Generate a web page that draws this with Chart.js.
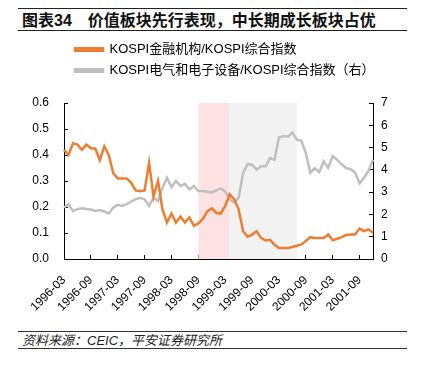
<!DOCTYPE html>
<html>
<head>
<meta charset="utf-8">
<script src="https://cdn.jsdelivr.net/npm/chart.js@4.4.1/dist/chart.umd.min.js"></script>
<style>
  body { margin: 0; background: #fff; width: 423px; height: 371px; position: relative; overflow: hidden; }
  .title {
    position: absolute; left: 18px; top: 8px; width: 389px; height: 23px;
    border-top: 1.5px solid #222; border-bottom: 1.5px solid #222;
    font: bold 16px "Liberation Sans", "Noto Sans CJK SC", sans-serif;
    line-height: 23px; padding-left: 4px; box-sizing: border-box; color: #111;
  }
  .source {
    position: absolute; left: 18px; top: 331px; width: 389px; height: 18px;
    border-top: 1px solid #333; border-bottom: 1px solid #333;
    font: italic 13px "Liberation Sans", "Noto Sans CJK SC", sans-serif;
    line-height: 17px; padding-left: 4px; box-sizing: border-box; color: #222;
  }
  #wrap { position: absolute; left: 0; top: 35px; width: 423px; height: 291px; }
</style>
</head>
<body>
<div class="title">图表34　价值板块先行表现，中长期成长板块占优</div>
<div id="wrap"><canvas id="chart"></canvas></div>
<div class="source">资料来源：CEIC，平安证券研究所</div>
<script>
// 月度数据 1996-03 ~ 2001-12
const months = [];
for (let y = 1996; y <= 2001; y++) {
  for (let m = 1; m <= 12; m++) {
    if (y === 1996 && m < 3) continue;
    months.push(y + '-' + String(m).padStart(2, '0'));
  }
}

const financeRatio = [
  0.42, 0.40, 0.445, 0.44, 0.42, 0.44, 0.426, 0.424, 0.38, 0.433,
  0.40, 0.33, 0.31, 0.31, 0.31, 0.293, 0.264, 0.261, 0.264, 0.37,
  0.24, 0.30, 0.19, 0.14, 0.175, 0.14, 0.163, 0.14, 0.16, 0.128,
  0.137, 0.154, 0.183, 0.195, 0.178, 0.175, 0.204, 0.249, 0.23, 0.19,
  0.107, 0.086, 0.094, 0.107, 0.081, 0.071, 0.074, 0.055, 0.042, 0.042,
  0.042, 0.046, 0.051, 0.056, 0.069, 0.084, 0.081, 0.081, 0.081, 0.094,
  0.072, 0.078, 0.084, 0.092, 0.094, 0.094, 0.117, 0.107, 0.114, 0.101
];

const electronicsRatio = [
  2.31, 2.46, 2.16, 2.24, 2.28, 2.24, 2.22, 2.16, 2.2, 2.13,
  2.04, 2.31, 2.43, 2.38, 2.46, 2.58, 2.68, 2.75, 2.68, 2.38,
  2.75, 2.6, 3.2, 3.64, 3.23, 3.5, 3.28, 3.37, 3.12, 3.28,
  3.05, 3.05, 3.02, 2.99, 3.08, 3.17, 3.02, 2.68, 2.53, 2.75,
  3.86, 4.26, 4.23, 4.01, 4.16, 4.16, 4.53, 4.45, 5.45, 5.52,
  5.49, 5.67, 5.35, 5.3, 4.75, 3.87, 4.07, 3.9, 4.38, 4.1,
  4.62, 4.45, 4.25, 4.08, 4.03, 3.88, 3.4, 3.65, 3.95, 4.46
];

// 阴影区间
const bands = [
  { from: '1998-09', to: '1999-04', color: 'rgba(252, 226, 226, 1)' },
  { from: '1999-04', to: '2000-07', color: 'rgba(242, 242, 242, 1)' }
];

const bandPlugin = {
  id: 'bands',
  beforeDatasetsDraw(chart) {
    const ctx = chart.ctx, x = chart.scales.x, area = chart.chartArea;
    ctx.save();
    bands.forEach(b => {
      const x1 = x.getPixelForValue(months.indexOf(b.from));
      const x2 = x.getPixelForValue(months.indexOf(b.to));
      ctx.fillStyle = b.color;
      ctx.fillRect(x1, area.top, x2 - x1, area.bottom - area.top);
    });
    ctx.restore();
  }
};

// legend 位置调整
const legendSpot = {
  id: 'legendSpot',
  beforeInit(chart) {
    const fit = chart.legend.fit;
    chart.legend.fit = function () {
      fit.call(this);
      this.height = 68;
    };
  },
  afterLayout(chart) {
    chart.legend.left = 67;
  }
};

Chart.defaults.font.family = '"Liberation Sans", "Noto Sans CJK SC", sans-serif';
Chart.defaults.color = '#000';

new Chart(document.getElementById('chart'), {
  type: 'line',
  data: {
    labels: months,
    datasets: [{
      label: 'KOSPI金融机构/KOSPI综合指数',
      data: financeRatio,
      borderColor: '#ED7D31',
      backgroundColor: '#ED7D31',
      borderWidth: 2.5,
      pointRadius: 0,
      yAxisID: 'y'
    }, {
      label: 'KOSPI电气和电子设备/KOSPI综合指数（右）',
      data: electronicsRatio,
      borderColor: '#BFBFBF',
      backgroundColor: '#BFBFBF',
      borderWidth: 2.5,
      pointRadius: 0,
      yAxisID: 'y1'
    }]
  },
  options: {
    responsive: true,
    maintainAspectRatio: false,
    animation: false,
    layout: { padding: 0 },
    plugins: {
      legend: {
        position: 'top',
        align: 'start',
        labels: { boxWidth: 28, boxHeight: 2.5, padding: 8, font: { size: 13 } }
      },
      tooltip: { enabled: false }
    },
    scales: {
      x: {
        afterFit(scale) { scale.height = 67; },
        grid: { drawOnChartArea: false, tickLength: -4, color: '#000' },
        border: { color: '#000' },
        ticks: {
          autoSkip: false, maxRotation: 45, minRotation: 45, padding: 18,
          font: { size: 12 },
          callback(v, i) { return i % 6 === 0 ? months[i] : null; }
        }
      },
      y: {
        position: 'left',
        min: 0, max: 0.6,
        afterFit(scale) { scale.width = 64; },
        grid: { drawOnChartArea: false, tickLength: -4, color: '#000' },
        border: { color: '#000' },
        ticks: { stepSize: 0.1, padding: 19, font: { size: 12 }, callback: v => v.toFixed(1) }
      },
      y1: {
        position: 'right',
        min: 0, max: 7,
        afterFit(scale) { scale.width = 50; },
        grid: { drawOnChartArea: false, tickLength: -4, color: '#000' },
        border: { color: '#000' },
        ticks: { stepSize: 1, padding: 12, font: { size: 12 } }
      }
    }
  },
  plugins: [bandPlugin, legendSpot]
});
</script>
</body>
</html>
